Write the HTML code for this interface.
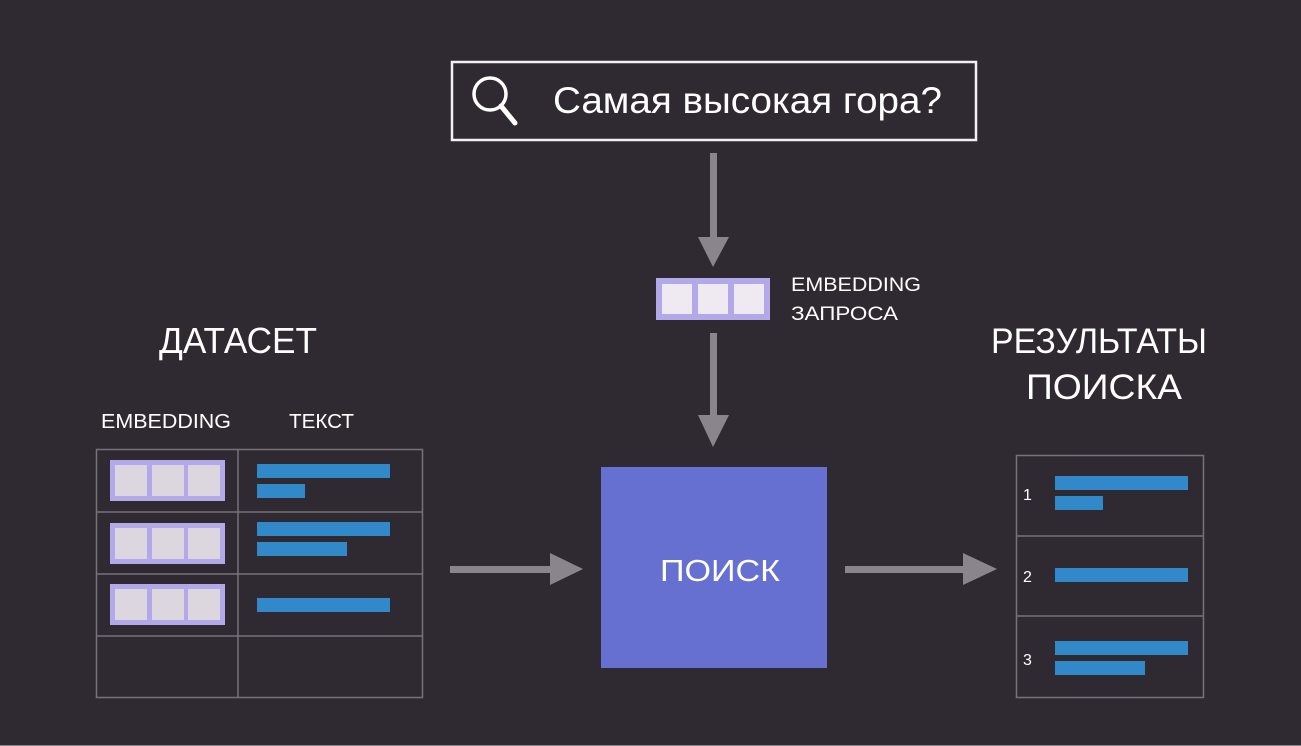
<!DOCTYPE html>
<html><head><meta charset="utf-8"><style>
body{margin:0;background:#2f2a31;}
svg{display:block}
text{font-family:"Liberation Sans",sans-serif;fill:#fff}
</style></head><body>
<svg width="1301" height="746" viewBox="0 0 1301 746">
<rect width="1301" height="746" fill="#2f2a31"/>
<rect x="0" y="745" width="1301" height="1" fill="#8a858c"/>
<!-- search box -->
<rect x="452" y="62" width="524" height="78" fill="none" stroke="#f2eef4" stroke-width="2.5"/>
<circle cx="490" cy="94" r="16" fill="none" stroke="#fff" stroke-width="3.5"/>
<line x1="501" y1="106" x2="515" y2="123" stroke="#fff" stroke-width="5" stroke-linecap="round"/>
<text x="553" y="113" font-size="37" textLength="389" lengthAdjust="spacingAndGlyphs">Самая высокая гора?</text>
<!-- arrows -->
<g fill="#8a858c">
<rect x="710" y="153" width="7" height="86"/>
<polygon points="698,237 729,237 713,267"/>
<rect x="710" y="333" width="7" height="84"/>
<polygon points="698,415 729,415 713,447"/>
<rect x="450" y="566" width="102" height="7"/>
<polygon points="550,553 550,585 583,569"/>
<rect x="845" y="566" width="120" height="7"/>
<polygon points="963,553 963,585 997,569"/>
</g>
<!-- query embedding -->
<rect x="656" y="278" width="114" height="42" fill="#b3a9e8"/>
<rect x="662" y="284" width="30" height="30" fill="#efeaf2"/>
<rect x="698" y="284" width="30" height="30" fill="#efeaf2"/>
<rect x="734" y="284" width="30" height="30" fill="#efeaf2"/>
<text x="791" y="291" font-size="19" textLength="130" lengthAdjust="spacingAndGlyphs">EMBEDDING</text>
<text x="791" y="320" font-size="19" textLength="107" lengthAdjust="spacingAndGlyphs">ЗАПРОСА</text>
<!-- search block -->
<rect x="601" y="467" width="226" height="201" fill="#6670d0"/>
<text x="660" y="581" font-size="31" textLength="120" lengthAdjust="spacingAndGlyphs">ПОИСК</text>
<!-- dataset -->
<text x="159" y="353" font-size="36" textLength="158" lengthAdjust="spacingAndGlyphs">ДАТАСЕТ</text>
<text x="101" y="428" font-size="20" textLength="130" lengthAdjust="spacingAndGlyphs">EMBEDDING</text>
<text x="289" y="428" font-size="20" textLength="65" lengthAdjust="spacingAndGlyphs">ТЕКСТ</text>
<g stroke="#77727a" stroke-width="1.5" fill="none">
<rect x="96.5" y="449.5" width="326" height="248"/>
<line x1="238" y1="449" x2="238" y2="698"/>
<line x1="96" y1="512" x2="423" y2="512"/>
<line x1="96" y1="574" x2="423" y2="574"/>
<line x1="96" y1="636" x2="423" y2="636"/>
</g>
<g>
<rect x="110" y="460" width="115" height="41" fill="#b3a9e8"/>
<rect x="115" y="465" width="32" height="31" fill="#dcd7de"/>
<rect x="152" y="465" width="32" height="31" fill="#dcd7de"/>
<rect x="188" y="465" width="32" height="31" fill="#dcd7de"/>
<rect x="110" y="523" width="115" height="41" fill="#b3a9e8"/>
<rect x="115" y="528" width="32" height="31" fill="#dcd7de"/>
<rect x="152" y="528" width="32" height="31" fill="#dcd7de"/>
<rect x="188" y="528" width="32" height="31" fill="#dcd7de"/>
<rect x="110" y="584" width="115" height="41" fill="#b3a9e8"/>
<rect x="115" y="589" width="32" height="31" fill="#dcd7de"/>
<rect x="152" y="589" width="32" height="31" fill="#dcd7de"/>
<rect x="188" y="589" width="32" height="31" fill="#dcd7de"/>
</g>
<g fill="#3189c9">
<rect x="257" y="464" width="133" height="14"/>
<rect x="257" y="484" width="48" height="14"/>
<rect x="257" y="522" width="133" height="14"/>
<rect x="257" y="542" width="90" height="14"/>
<rect x="257" y="598" width="133" height="14"/>
</g>
<!-- results -->
<text x="991" y="353" font-size="35" textLength="216" lengthAdjust="spacingAndGlyphs">РЕЗУЛЬТАТЫ</text>
<text x="1026" y="399" font-size="35" textLength="156" lengthAdjust="spacingAndGlyphs">ПОИСКА</text>
<g stroke="#77727a" stroke-width="1.5" fill="none">
<rect x="1016.5" y="455.5" width="187" height="242"/>
<line x1="1016" y1="536" x2="1204" y2="536"/>
<line x1="1016" y1="616" x2="1204" y2="616"/>
</g>
<text x="1023" y="500" font-size="16">1</text>
<text x="1023" y="582" font-size="16">2</text>
<text x="1023" y="665" font-size="16">3</text>
<g fill="#3189c9">
<rect x="1055" y="476" width="133" height="14"/>
<rect x="1055" y="496" width="48" height="14"/>
<rect x="1055" y="568" width="133" height="14"/>
<rect x="1055" y="641" width="133" height="14"/>
<rect x="1055" y="661" width="90" height="14"/>
</g>
</svg>
</body></html>
